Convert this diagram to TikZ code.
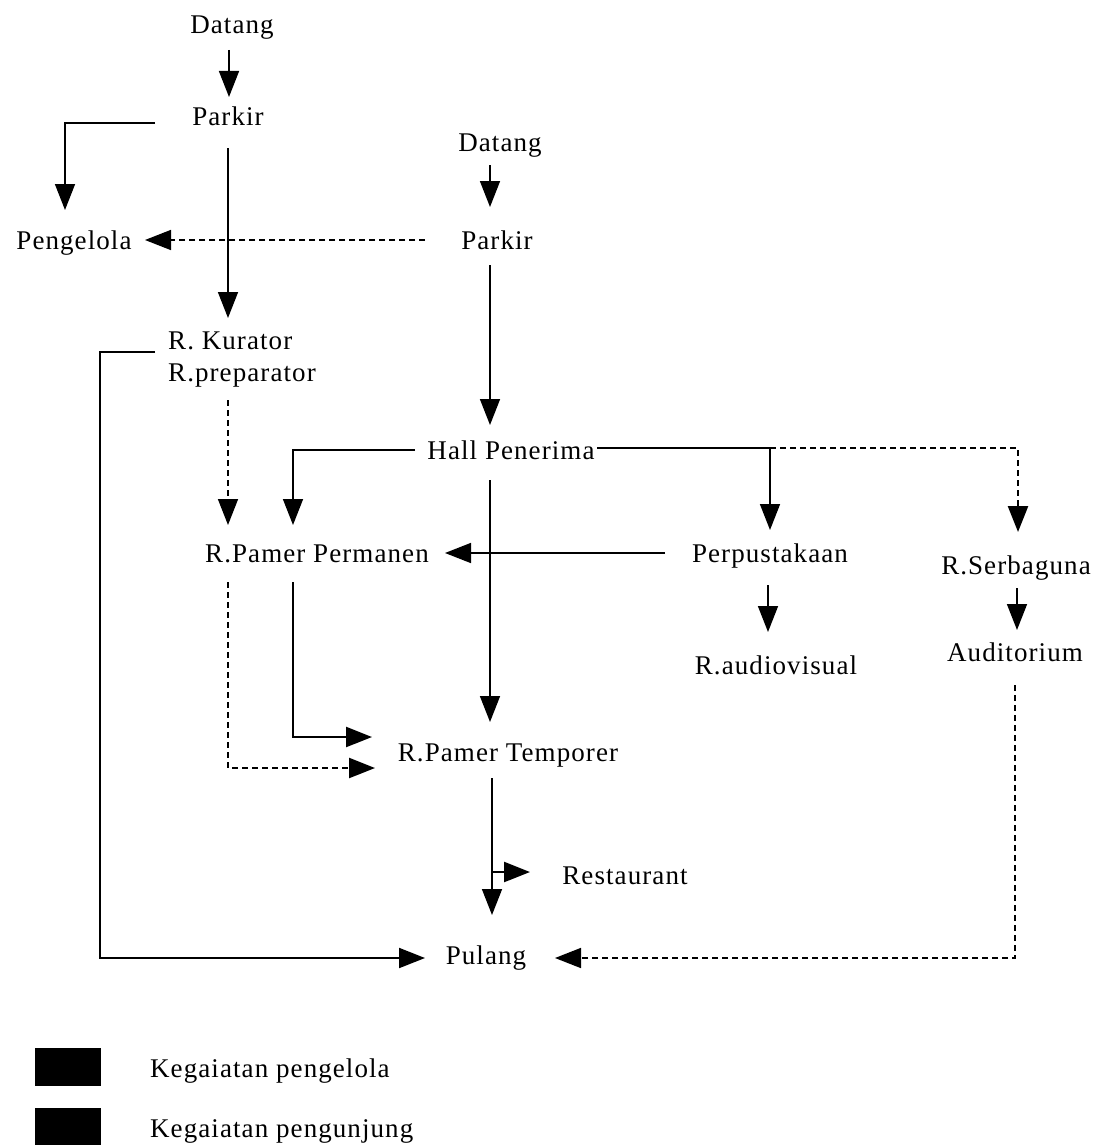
\documentclass[tikz,border=0pt]{standalone}
\usepackage{fontspec}
\setmainfont{Liberation Serif}[LetterSpace=4]
\usetikzlibrary{arrows.meta,calc}
\begin{document}
\begin{tikzpicture}[x=1pt,y=-1pt,
  lbl/.style={inner sep=0pt,font=\fontsize{27}{32}\selectfont,text height=21pt,text depth=3pt},
  conn/.style={line width=1.6pt,-{Triangle[length=26pt,width=20pt]}},
  dconn/.style={conn,dash pattern=on 6pt off 4pt},
  legbox/.style={fill=black,draw=black,minimum width=65pt,minimum height=37pt,inner sep=0pt}]
\useasboundingbox (0,0) rectangle (1102,1145);
% nodes
\node[lbl] (d1) at (232,25) {Datang};
\node[lbl] (p1) at (228,117) {Parkir};
\node[lbl] (peng) at (74,240) {Pengelola};
\node[lbl] (d2) at (500,142) {Datang};
\node[lbl] (p2) at (497,240) {Parkir};
\node[lbl,align=left,anchor=west,text height=,text depth=] (kur) at (168,360) {R. Kurator\\R.preparator};
\node[lbl] (hall) at (511,450) {Hall Penerima};
\node[lbl] (perm) at (317,553) {R.Pamer Permanen};
\node[lbl] (perp) at (770,553) {Perpustakaan};
\node[lbl] (serb) at (1016,565) {R.Serbaguna};
\node[lbl] (audv) at (776,665) {R.audiovisual};
\node[lbl] (audi) at (1015,652) {Auditorium};
\node[lbl] (temp) at (508,752) {R.Pamer Temporer};
\node[lbl] (rest) at (625,875) {Restaurant};
\node[lbl] (pul) at (486,955) {Pulang};
% legend
\node[legbox] (lb1) at (67.5,1067) {};
\node[legbox] (lb2) at (67.5,1127) {};
\node[lbl,anchor=west] (lt1) at (150,1068) {Kegaiatan pengelola};
\node[lbl,anchor=west] (lt2) at (150,1128) {Kegaiatan pengunjung};
% connectors
\draw[conn] ($(d1)+(-3,25)$) -- ($(p1)+(1,-20)$);
\draw[conn] ($(p1)+(-73,6)$) -| ($(peng)+(-9,-30)$);
\draw[conn] ($(p1)+(0,31)$) -- ($(kur.west)+(60,-42)$);
\draw[dconn] ($(p2)+(-72,0)$) -- ($(peng)+(71,0)$);
\draw[conn] ($(d2)+(-10,23)$) -- ($(p2)+(-7,-33)$);
\draw[conn] ($(p2)+(-7,25)$) -- ($(hall)+(-21,-25)$);
\draw[conn,line width=2pt] ($(kur.west)+(-13,-8)$) -- ++(-55,0) |- ($(pul)+(-61,3)$);
\draw[dconn] ($(kur.west)+(60,40)$) -- ($(perm)+(-89,-28)$);
\draw[conn] ($(hall)+(-96,0)$) -| ($(perm)+(-24,-28)$);
\draw[conn] ($(hall)+(-21,30)$) -- ($(temp)+(-18,-30)$);
\draw[line width=2.6pt] ($(hall)+(86,-2)$) -- ($(hall)+(259,-2)$);
\draw[conn] ($(hall)+(259,-2)$) -- ($(perp)+(0,-23)$);
\draw[dconn,line width=2.4pt] ($(hall)+(259,-2)$) -| ($(serb)+(2,-33)$);
\draw[conn] ($(perp)+(-105,0)$) -- ($(perm)+(128,0)$);
\draw[conn] ($(perp)+(-2,32)$) -- ($(audv)+(-8,-33)$);
\draw[conn] ($(serb)+(1,23)$) -- ($(audi)+(2,-22)$);
\draw[dconn] ($(audi)+(0,33)$) |- ($(pul)+(69,3)$);
\draw[conn,line width=2.4pt] ($(perm)+(-24,29)$) |- ($(temp)+(-136,-15)$);
\draw[dconn,line width=2.4pt] ($(perm)+(-89,29)$) |- ($(temp)+(-133,16)$);
\draw[conn] ($(temp)+(-16,26)$) -- ($(pul)+(6,-40)$);
\draw[conn,line width=2.4pt] ($(temp)+(-16,120)$) -- ($(rest)+(-95,-3)$);
\end{tikzpicture}
\end{document}
